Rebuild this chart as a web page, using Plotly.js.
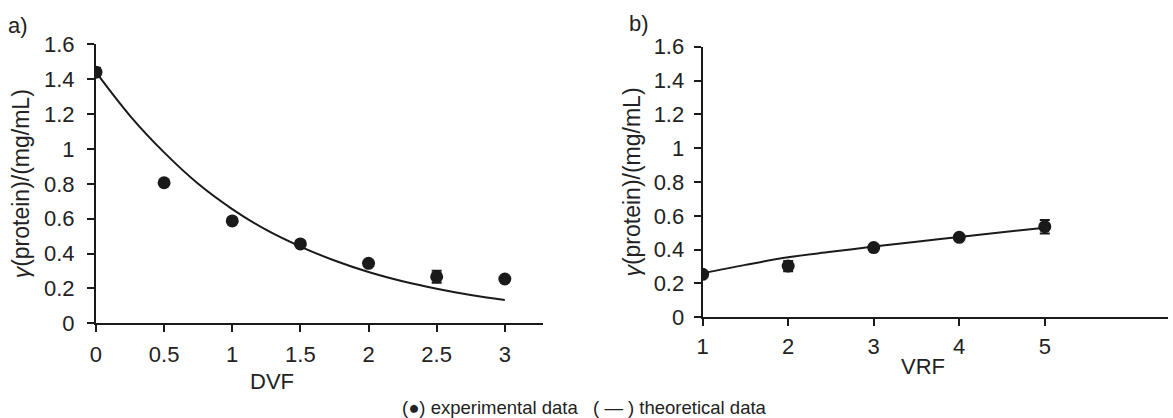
<!DOCTYPE html>
<html>
<head>
<meta charset="utf-8">
<script src="https://cdn.plot.ly/plotly-3.0.1.min.js"></script>
<style>html,body{margin:0;padding:0;background:#fff;}#chart{width:1173px;height:418px;}</style>
</head>
<body>
<div id="chart"></div>
<script>
// Panel a: DVF
const dvfX = [0, 0.5, 1, 1.5, 2, 2.5, 3];
const dvfY = [1.44, 0.806, 0.587, 0.455, 0.344, 0.267, 0.254];
const dvfErr = [0.025, 0.01, 0.01, 0.01, 0.015, 0.035, 0.01];
const dvfTheoX = [0, 0.25, 0.5, 0.75, 1, 1.25, 1.5, 1.75, 2, 2.25, 2.5, 2.75, 3];
const dvfTheoY = [1.44, 1.19, 0.98, 0.80, 0.655, 0.535, 0.44, 0.36, 0.294, 0.241, 0.198, 0.162, 0.134];

// Panel b: VRF
const vrfX = [1, 2, 3, 4, 5];
const vrfY = [0.254, 0.303, 0.412, 0.473, 0.536];
const vrfErr = [0.01, 0.03, 0.01, 0.015, 0.04];
const vrfTheoX = [1, 1.5, 2, 2.5, 3, 3.5, 4, 4.5, 5];
const vrfTheoY = [0.26, 0.31, 0.355, 0.387, 0.418, 0.447, 0.475, 0.503, 0.53];

const yTicks = [0, 0.2, 0.4, 0.6, 0.8, 1, 1.2, 1.4, 1.6];
const yTickText = ['0', '0.2', '0.4', '0.6', '0.8', '1', '1.2', '1.4', '1.6'];
const dvfTicks = [0, 0.5, 1, 1.5, 2, 2.5, 3];
const dvfTickText = ['0', '0.5', '1', '1.5', '2', '2.5', '3'];
const vrfTicks = [1, 2, 3, 4, 5];

const FONT = 'Liberation Sans, Arial, sans-serif';
const black = '#1a1a1a';
const txt = '#222';

const traces = [
  {x: dvfTheoX, y: dvfTheoY, mode: 'lines', line: {color: black, width: 2, shape: 'spline'}, xaxis: 'x', yaxis: 'y', showlegend: false, hoverinfo: 'skip'},
  {x: dvfX, y: dvfY, mode: 'markers', marker: {color: black, size: 13}, error_y: {type: 'data', array: dvfErr, color: black, thickness: 2, width: 5}, xaxis: 'x', yaxis: 'y', showlegend: false},
  {x: vrfTheoX, y: vrfTheoY, mode: 'lines', line: {color: black, width: 2, shape: 'spline'}, xaxis: 'x2', yaxis: 'y2', showlegend: false, hoverinfo: 'skip'},
  {x: vrfX, y: vrfY, mode: 'markers', marker: {color: black, size: 13}, error_y: {type: 'data', array: vrfErr, color: black, thickness: 2, width: 5}, xaxis: 'x2', yaxis: 'y2', showlegend: false}
];

const axisCommon = {
  showline: true, linecolor: black, linewidth: 2,
  ticks: 'outside', ticklen: 7, tickwidth: 2, tickcolor: black,
  showgrid: false, zeroline: false,
  tickfont: {family: FONT, size: 22, color: txt}
};
const ytitle = '<i>γ</i>(protein)/(mg/mL)';
const yTitleFont = {family: FONT, size: 23, color: txt};
const xTitleFont = {family: FONT, size: 22, color: txt};

const layout = {
  width: 1173, height: 418,
  margin: {l: 0, r: 0, t: 0, b: 0},
  paper_bgcolor: '#fff', plot_bgcolor: '#fff',
  font: {family: FONT, color: black},
  showlegend: false,
  xaxis: Object.assign({}, axisCommon, {
    domain: [0.0818, 0.4629], range: [0, 3.28], anchor: 'y',
    tickvals: dvfTicks, ticktext: dvfTickText, ticklabelstandoff: 3
  }),
  yaxis: Object.assign({}, axisCommon, {
    domain: [0.2266, 0.894], range: [0, 1.6], anchor: 'x',
    tickvals: yTicks, ticktext: yTickText, ticklabelstandoff: 8,
    title: {text: ytitle, font: yTitleFont, standoff: 8}
  }),
  xaxis2: Object.assign({}, axisCommon, {
    domain: [0.599, 0.9957], range: [1, 6.44], anchor: 'y2',
    tickvals: vrfTicks, ticklabelstandoff: 1
  }),
  yaxis2: Object.assign({}, axisCommon, {
    domain: [0.2409, 0.8883], range: [0, 1.6], anchor: 'x2',
    tickvals: yTicks, ticktext: yTickText, ticklabelstandoff: 5,
    title: {text: ytitle, font: yTitleFont, standoff: 7}
  }),
  annotations: [
    {text: 'DVF', x: 0.2319, y: 0.0885, xref: 'paper', yref: 'paper', xanchor: 'center', yanchor: 'middle', showarrow: false, font: xTitleFont},
    {text: 'VRF', x: 0.787, y: 0.1244, xref: 'paper', yref: 'paper', xanchor: 'center', yanchor: 'middle', showarrow: false, font: xTitleFont},
    {text: 'a)', x: 0.0154, y: 0.938, xref: 'paper', yref: 'paper', xanchor: 'center', yanchor: 'middle', showarrow: false, font: {family: FONT, size: 22, color: txt}},
    {text: '(●) experimental data &nbsp; ( — ) theoretical data', x: 0.498, y: 0.024, xref: 'paper', yref: 'paper', xanchor: 'center', yanchor: 'middle', showarrow: false, font: {family: FONT, size: 18.5, color: txt}},
    {text: 'b)', x: 0.545, y: 0.943, xref: 'paper', yref: 'paper', xanchor: 'center', yanchor: 'middle', showarrow: false, font: {family: FONT, size: 22, color: txt}}
  ]
};

Plotly.newPlot('chart', traces, layout, {displayModeBar: false, staticPlot: true});
</script>
</body>
</html>
